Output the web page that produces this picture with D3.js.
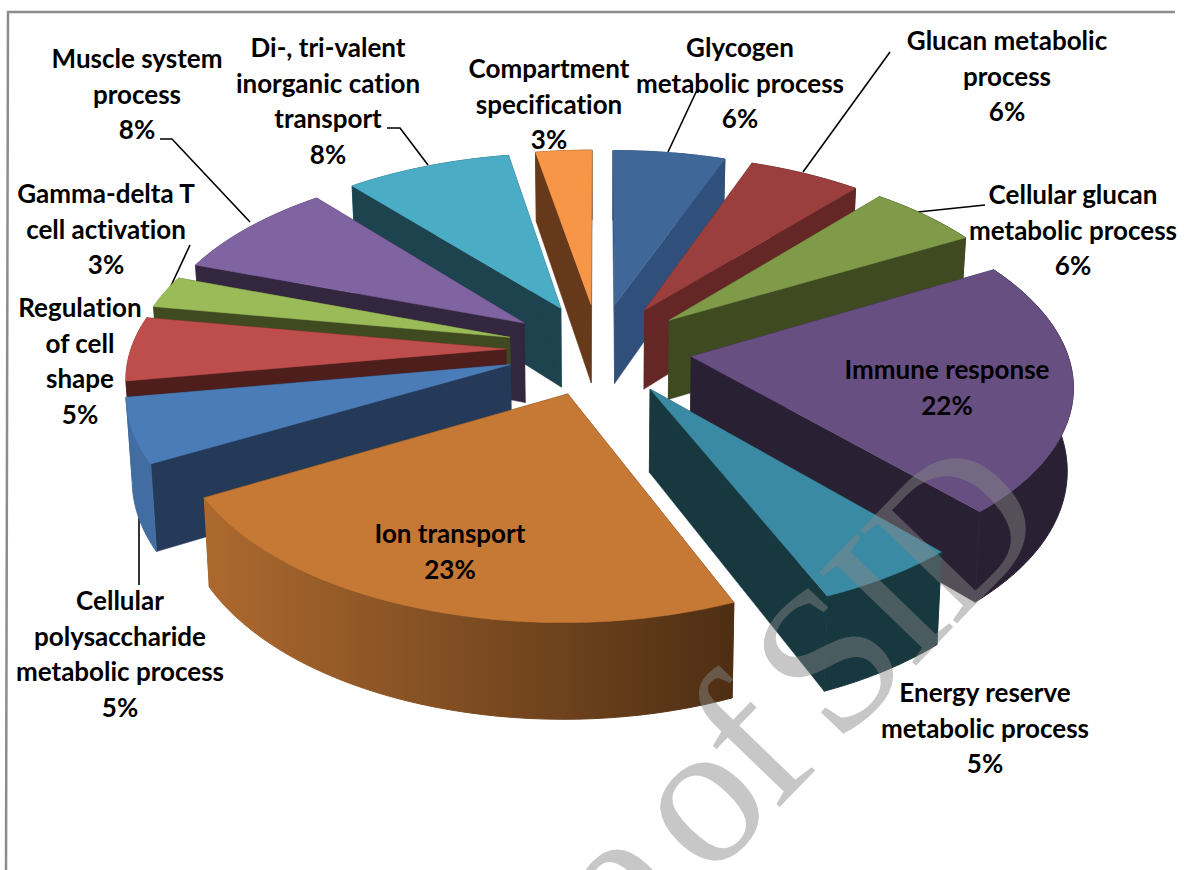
<!DOCTYPE html>
<html>
<head>
<meta charset="utf-8">
<script src="https://cdn.jsdelivr.net/npm/d3@7"></script>
<style>
  html, body { margin: 0; padding: 0; background: #fff; overflow: hidden; }
  svg { display: block; }
  text { font-family: Lato, "Open Sans", sans-serif; font-weight: 700; font-size: 26px; fill: #000; font-variant-ligatures: none; }
</style>
</head>
<body>
<svg width="1184" height="870"></svg>
<script>
// Du lieu doc tu hinh (gia tri uoc luong, nhan hien thi lam tron)
const categories = [
    "Glycogen metabolic process", "Glucan metabolic process", "Cellular glucan metabolic process",
    "Immune response", "Energy reserve metabolic process", "Ion transport",
    "Cellular polysaccharide metabolic process", "Regulation of cell shape",
    "Gamma-delta T cell activation", "Muscle system process",
    "Di-, tri-valent inorganic cation transport", "Compartment specification"
];
const values = [5.6, 5.6, 5.6, 21.6, 5.3, 23.15, 5.45, 5.45, 2.75, 8.45, 8.25, 2.8];
const topColors = ["#3f6899", "#9a3f3e", "#7f9a48", "#674f82", "#3b8aa4", "#c67835",
                   "#4a7cb8", "#bd4e4b", "#9bbb59", "#8064a2", "#4bacc6", "#f79646"];
const wallColors = ["#304f7a", "#642726", "#3f4a20", "#2a2033", "#18383f", "#4f2f14",
                    "#243a58", "#4d1e1c", "#3f4a20", "#33263f", "#1d434e", "#65391a"];
const labelLines = [
    ["Glycogen", "metabolic process"], ["Glucan metabolic", "process"],
    ["Cellular glucan", "metabolic process"], ["Immune response"],
    ["Energy reserve", "metabolic process"], ["Ion transport"],
    ["Cellular", "polysaccharide", "metabolic process"], ["Regulation", "of cell", "shape"],
    ["Gamma-delta T", "cell activation"], ["Muscle system", "process"],
    ["Di-, tri-valent", "inorganic cation", "transport"], ["Compartment", "specification"]
];
const labelX = [740, 1007, 1073, 947, 985, 450, 120, 80, 106, 137, 328, 549];
const labelY = [57, 50, 204, 379, 702, 543, 610, 317, 203, 68, 57, 78];
const leaders = [
    [[697, 90], [668, 152]], [[890, 52], [803, 172]], [[985, 205], [918, 212]],
    [[139, 513], [139, 585]], [[190, 245], [170, 288]],
    [[160, 139], [172, 139], [250, 222]], [[387, 128], [400, 128], [428, 165]]
];

// Phep chieu phoi canh cua dia banh
const cx = 599, cy = 349, radius = 375, explode = 93;
const tilt = 0.495, dist = 2850, depth = 81, shrink = 0.987;

function project(X, Y, z) {
    const s = dist / (dist - Y);
    const k = z ? shrink : 1;
    return [cx + X * s * k, cy + (Y * tilt + (z ? depth : 0)) * s];
}

const svg = d3.select("svg");
const defs = svg.append("defs");
const line = d3.line();

const pie = d3.pie().sort(null).value(d => d);
const arcs = pie(values).map((d, i) => {
    const mid = (d.startAngle + d.endAngle) / 2;
    return {
        i,
        start: d.startAngle,
        end: d.endAngle,
        mid,
        ox: Math.sin(mid) * explode,
        oy: -Math.cos(mid) * explode
    };
});

function rim(a, z) {
    const n = 40;
    return d3.range(n + 1).map(j => {
        const t = a.start + (a.end - a.start) * j / n;
        return project(a.ox + Math.sin(t) * radius, a.oy - Math.cos(t) * radius, z);
    });
}

// Bong do thanh ben thay doi theo x
arcs.forEach(a => {
    const g = defs.append("linearGradient")
        .attr("id", "wall" + a.i)
        .attr("gradientUnits", "userSpaceOnUse")
        .attr("x1", 200).attr("x2", 727).attr("y1", 0).attr("y2", 0);
    const lit = d3.interpolateRgb(topColors[a.i], "#000")(0.12);
    g.append("stop").attr("offset", 0).attr("stop-color", lit);
    g.append("stop").attr("offset", 1).attr("stop-color", wallColors[a.i]);
});

// Khung
svg.append("path")
    .attr("d", line([[6, 870], [8, 12], [1175, 12]]))
    .attr("fill", "none").attr("stroke", "#8c8c8c").attr("stroke-width", 2.5);

// Duong dan nhan
svg.selectAll(".leader").data(leaders).enter().append("path")
    .attr("class", "leader")
    .attr("d", d => line(d))
    .attr("fill", "none").attr("stroke", "#000").attr("stroke-width", 1.6);

// Ve tu sau ra truoc
const order = arcs.slice().sort((a, b) => a.oy - b.oy);
const slices = svg.selectAll(".slice").data(order).enter().append("g").attr("class", "slice");

slices.each(function(a) {
    const g = d3.select(this);
    const topRim = rim(a, 0), botRim = rim(a, 1);
    const apexT = project(a.ox, a.oy, 0), apexB = project(a.ox, a.oy, 1);

    const drawRadial = () => {
        [[topRim[0], botRim[0]], [topRim[40], botRim[40]]].forEach(([t, b]) => {
            g.append("path")
                .attr("d", line([apexT, t, b, apexB]) + "Z")
                .attr("fill", wallColors[a.i])
                .attr("stroke", wallColors[a.i]).attr("stroke-width", 0.5);
        });
    };
    const drawOuter = () => {
        g.append("path")
            .attr("d", line(topRim.concat(botRim.slice().reverse())) + "Z")
            .attr("fill", `url(#wall${a.i})`)
            .attr("stroke", `url(#wall${a.i})`).attr("stroke-width", 1);
    };
    if (a.oy < 0) { drawOuter(); drawRadial(); } else { drawRadial(); drawOuter(); }

    g.append("path")
        .attr("d", line([apexT].concat(topRim)) + "Z")
        .attr("fill", topColors[a.i])
        .attr("stroke", topColors[a.i]).attr("stroke-width", 0.5);
});

// Nhan
const pct = d => Math.round(d) + "%";
arcs.forEach(a => {
    const rows = labelLines[a.i].concat(pct(values[a.i]));
    const t = svg.append("text")
        .attr("class", "label")
        .attr("text-anchor", "middle")
        .attr("aria-label", categories[a.i]);
    rows.forEach((r, j) => {
        t.append("tspan")
            .attr("x", labelX[a.i])
            .attr("y", labelY[a.i] + j * 35.7)
            .text(r);
    });
});

// Dau nuoc
svg.append("text")
    .attr("transform", "translate(1050,527) rotate(-46)")
    .attr("text-anchor", "end")
    .style("font-family", "'Liberation Serif', serif")
    .style("font-weight", 400)
    .style("font-size", "205px")
    .style("letter-spacing", "-8px")
    .style("word-spacing", "-12px")
    .style("fill", "#878787")
    .style("opacity", 0.46)
    .text("Archive of SID");
</script>
</body>
</html>
